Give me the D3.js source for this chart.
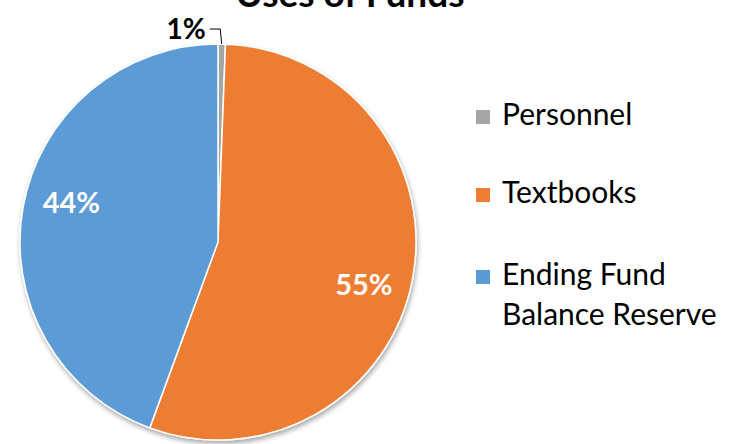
<!DOCTYPE html>
<html>
<head>
<meta charset="utf-8">
<script src="https://cdn.jsdelivr.net/npm/d3@7"></script>
<style>
  html, body { margin: 0; padding: 0; background: #fff; }
  svg { display: block; font-family: Lato, "Open Sans", "DejaVu Sans", sans-serif; }
</style>
</head>
<body>
<svg id="chart" width="734" height="444"></svg>
<script>
// Uses of Funds — share of each spending category
const categories = ["Personnel", "Textbooks", "Ending Fund Balance Reserve"];
const shares = [0.6, 55.0, 44.4];
const colors = ["#A5A5A5", "#ED7D31", "#5B9BD5"];
const legendLines = [["Personnel"], ["Textbooks"], ["Ending Fund", "Balance Reserve"]];
const title = "Uses of Funds";

const W = 734, H = 444;
const cx = 218, cy = 242, R = 198;

const svg = d3.select("#chart");

// soft drop shadow under the pie
const defs = svg.append("defs");
const f = defs.append("filter").attr("id", "shadow")
  .attr("x", "-10%").attr("y", "-10%").attr("width", "120%").attr("height", "125%");
f.append("feGaussianBlur").attr("in", "SourceAlpha").attr("stdDeviation", 2.5).attr("result", "b");
f.append("feOffset").attr("in", "b").attr("dx", 1).attr("dy", 3).attr("result", "o");
f.append("feComponentTransfer").attr("in", "o").attr("result", "s")
  .append("feFuncA").attr("type", "linear").attr("slope", 0.35);
const m = f.append("feMerge");
m.append("feMergeNode").attr("in", "s");
m.append("feMergeNode").attr("in", "SourceGraphic");

const data = categories.map((c, i) => ({ name: c, value: shares[i], color: colors[i] }));
const total = d3.sum(shares);

const pie = d3.pie().sort(null).value(d => d.value);
const arcs = pie(data);
const arc = d3.arc().innerRadius(0).outerRadius(R);

const g = svg.append("g").attr("transform", `translate(${cx},${cy})`);

g.append("g").attr("filter", "url(#shadow)")
  .selectAll("path").data(arcs).join("path")
  .attr("d", arc)
  .attr("fill", d => d.data.color)
  .attr("stroke", "#fff")
  .attr("stroke-width", 1.5)
  .attr("stroke-linejoin", "round");

const pct = d => d3.format(".0f")(d.data.value / total * 100) + "%";

// inside labels for the two large slices, set a little past the slice's mid angle
const labelR = 152, labelTurn = 0.09;
arcs.slice(1).forEach(d => {
  const a = (d.startAngle + d.endAngle) / 2 + labelTurn;
  g.append("text")
    .attr("x", labelR * Math.sin(a))
    .attr("y", -labelR * Math.cos(a))
    .attr("dy", "0.36em")
    .attr("text-anchor", "middle")
    .attr("fill", "#fff")
    .attr("font-weight", 700)
    .attr("font-size", 29)
    .text(pct(d));
});

// the thin slice gets an outside label with a leader line
const small = arcs[0];
const ma = (small.startAngle + small.endAngle) / 2;
const ex = R * Math.sin(ma), ey = -R * Math.cos(ma);
const elbowY = -R - 15;
g.append("polyline")
  .attr("points", [[ex, ey], [ex - 1.5, elbowY], [ex - 12, elbowY]].map(p => p.join(",")).join(" "))
  .attr("fill", "none").attr("stroke", "#000").attr("stroke-width", 1);
g.append("text")
  .attr("x", ex - 16).attr("y", elbowY)
  .attr("dy", "0.36em")
  .attr("text-anchor", "end")
  .attr("font-weight", 700)
  .attr("font-size", 28)
  .attr("fill", "#000")
  .text(pct(small));

// title, partly clipped at the top edge
svg.append("text")
  .attr("x", 350).attr("y", 7)
  .attr("text-anchor", "middle")
  .attr("font-weight", 700)
  .attr("font-size", 37)
  .attr("fill", "#000")
  .text(title);

// legend
const legend = svg.append("g").attr("transform", "translate(476,0)");
const rowY = [125, 203, 285];
const lineGap = 40;
legendLines.forEach((lines, i) => {
  legend.append("rect")
    .attr("x", 0).attr("y", rowY[i] - 15)
    .attr("width", 14).attr("height", 14)
    .attr("fill", colors[i]);
  const t = legend.append("text")
    .attr("x", 26).attr("y", rowY[i])
    .attr("font-size", 30)
    .attr("fill", "#000");
  lines.forEach((ln, j) => {
    t.append("tspan").attr("x", 26).attr("y", rowY[i] + j * lineGap).text(ln);
  });
});
</script>
</body>
</html>
